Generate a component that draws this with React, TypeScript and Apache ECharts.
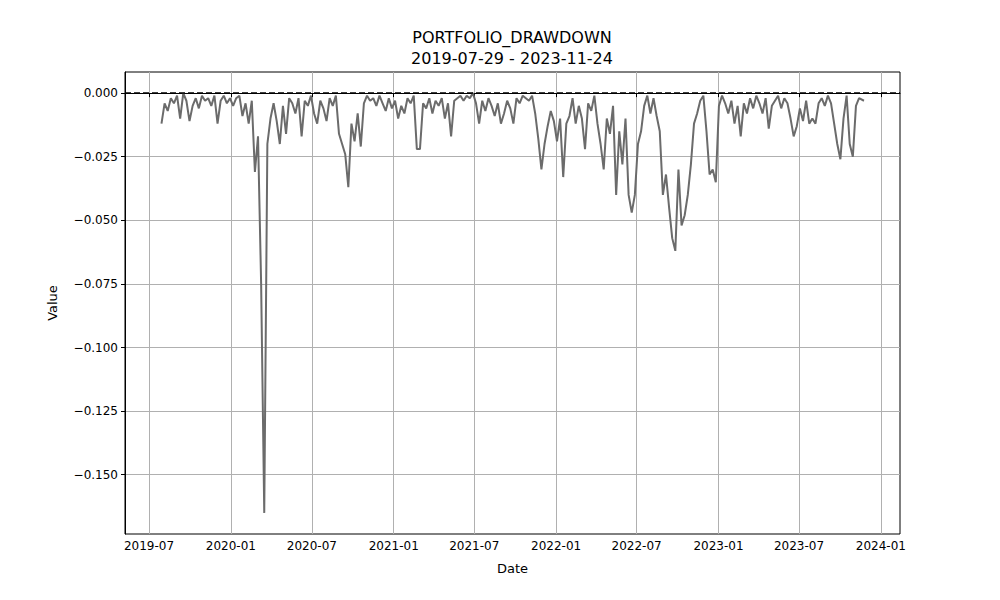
import { useEffect, useRef } from "react";
import * as echarts from "echarts";

// weekly drawdown readings starting 2019-07-29
const drawdown: number[] = [
  -0.012, -0.004, -0.007, -0.002, -0.004, -0.001, -0.01, 0, -0.003, -0.011,
  -0.005, -0.002, -0.006, -0.001, -0.003, -0.002, -0.005, -0.001, -0.012, -0.003,
  -0.001, -0.004, -0.002, -0.005, -0.002, -0.001, -0.009, -0.004, -0.012, -0.003,
  -0.031, -0.017, -0.075, -0.165, -0.02, -0.01, -0.004, -0.011, -0.02, -0.005,
  -0.016, -0.002, -0.004, -0.008, -0.002, -0.017, -0.003, -0.005, -0.001, -0.008,
  -0.012, -0.003, -0.006, -0.011, -0.002, -0.005, -0.001, -0.016, -0.02, -0.024,
  -0.037, -0.012, -0.019, -0.008, -0.021, -0.004, -0.001, -0.003, -0.002, -0.005,
  -0.001, -0.004, -0.007, -0.002, -0.006, -0.003, -0.01, -0.005, -0.008, -0.002,
  -0.004, -0.001, -0.022, -0.022, -0.004, -0.006, -0.002, -0.008, -0.003, -0.005,
  -0.002, -0.01, -0.004, -0.017, -0.003, -0.002, -0.001, -0.003, -0.001, -0.002,
  0, -0.004, -0.012, -0.003, -0.007, -0.002, -0.005, -0.009, -0.004, -0.012,
  -0.008, -0.003, -0.006, -0.012, -0.002, -0.004, -0.001, -0.002, -0.003, -0.001,
  -0.008, -0.018, -0.03, -0.02, -0.013, -0.007, -0.011, -0.019, -0.01, -0.033,
  -0.012, -0.009, -0.002, -0.012, -0.005, -0.01, -0.022, -0.004, -0.007, -0.001,
  -0.012, -0.02, -0.03, -0.01, -0.016, -0.005, -0.04, -0.015, -0.028, -0.01,
  -0.04, -0.047, -0.04, -0.02, -0.015, -0.005, -0.001, -0.008, -0.002, -0.009,
  -0.015, -0.04, -0.032, -0.045, -0.057, -0.062, -0.03, -0.052, -0.048, -0.04,
  -0.028, -0.012, -0.008, -0.003, -0.001, -0.015, -0.032, -0.03, -0.035, -0.005,
  -0.001, -0.004, -0.008, -0.003, -0.012, -0.005, -0.017, -0.004, -0.008, -0.002,
  -0.006, -0.001, -0.004, -0.008, -0.002, -0.014, -0.005, -0.003, -0.001, -0.006,
  -0.002, -0.004, -0.01, -0.017, -0.013, -0.006, -0.011, -0.003, -0.012, -0.01,
  -0.012, -0.004, -0.002, -0.005, -0.001, -0.004, -0.012, -0.02, -0.026, -0.01,
  -0.001, -0.02, -0.025, -0.005, -0.002, -0.003,
];
const startDate = "2019-07-29";
const endDate = "2023-11-24";
const xTicks = ["2019-07-01", "2020-01-01", "2020-07-01", "2021-01-01", "2021-07-01",
  "2022-01-01", "2022-07-01", "2023-01-01", "2023-07-01", "2024-01-01"];
const yTicks = [0, -0.025, -0.05, -0.075, -0.1, -0.125, -0.15];

const DAY = 86400000;
const t0 = Date.parse(startDate);
const points = drawdown.map((v, i) => [
  i === drawdown.length - 1 ? Date.parse(endDate) : t0 + i * 7 * DAY,
  v,
]);
const xTickValues = xTicks.map((d) => Date.parse(d));

function App() {
  const ref = useRef<HTMLDivElement | null>(null);

  useEffect(() => {
    if (!ref.current) return;
    const chart = echarts.init(ref.current, null, { renderer: "svg" });
    const font = "DejaVu Sans";
    chart.setOption({
      animation: false,
      textStyle: { fontFamily: font },
      graphic: [
        { type: "text", x: 504, y: 29, style: { text: "PORTFOLIO_DRAWDOWN", font: `16px ${font}`, fill: "#000", textAlign: "center", textVerticalAlign: "middle" } },
        { type: "text", x: 504, y: 50, style: { text: `${startDate} - ${endDate}`, font: `16px ${font}`, fill: "#000", textAlign: "center", textVerticalAlign: "middle" } },
      ],
      grid: { left: 117, top: 64, width: 775, height: 462, show: true, borderColor: "#000", borderWidth: 1 },
      xAxis: {
        type: "value",
        min: Date.parse("2019-05-08"),
        max: Date.parse("2024-02-13"),
        name: "Date",
        nameLocation: "middle",
        nameGap: 28,
        nameTextStyle: { color: "#000", fontSize: 13 },
        axisLine: { lineStyle: { color: "#000" } },
        axisTick: { customValues: xTickValues, length: 4, lineStyle: { color: "#000" } },
        axisLabel: {
          customValues: xTickValues,
          color: "#000", fontSize: 12, margin: 6,
          formatter: (v: number) => {
            const d = new Date(v);
            return `${d.getUTCFullYear()}-${String(d.getUTCMonth() + 1).padStart(2, "0")}`;
          },
        },
        splitLine: { show: true, lineStyle: { color: "#b0b0b0", width: 1 } },
      },
      yAxis: {
        type: "value",
        min: -0.1733,
        max: 0.0083,
        name: "Value",
        nameLocation: "middle",
        nameGap: 66,
        nameTextStyle: { color: "#000", fontSize: 13 },
        axisLine: { show: true, lineStyle: { color: "#000" } },
        axisTick: { show: true, customValues: yTicks, length: 4, lineStyle: { color: "#000" } },
        axisLabel: {
          customValues: yTicks,
          color: "#000", fontSize: 12, margin: 7,
          formatter: (v: number) => (v < 0 ? "\u2212" + Math.abs(v).toFixed(3) : v.toFixed(3)),
        },
        splitLine: { show: true, lineStyle: { color: "#b0b0b0", width: 1 } },
      },
      series: [
        {
          type: "line",
          data: points,
          showSymbol: false,
          lineStyle: { color: "#6b6b6b", width: 2 },
          markLine: {
            silent: true,
            symbol: "none",
            label: { show: false },
            lineStyle: { color: "#000", type: [6, 3], width: 1.5 },
            data: [{ yAxis: 0 }],
          },
        },
      ],
    });
    return () => chart.dispose();
  }, []);

  return <div ref={ref} style={{ width: "992px", height: "592px" }} />;
}

export default App;
